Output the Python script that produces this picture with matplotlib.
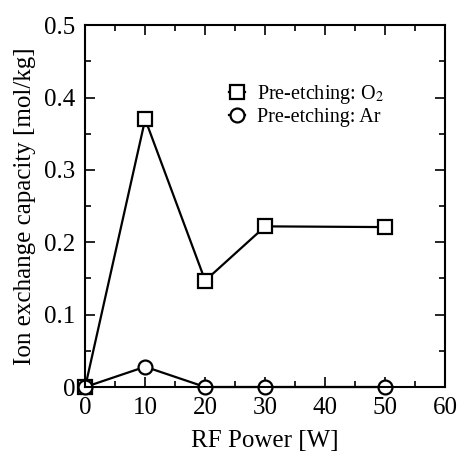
#ion exchange capacity vs RF power

import numpy as np
import matplotlib.pyplot as plt
from matplotlib.ticker import MultipleLocator

power = [0, 10, 20, 30, 50]
o2_iec = [0.0, 0.37, 0.147, 0.222, 0.221]
ar_iec = [0.0, 0.028, 0.0, 0.0, 0.0]

plt.rcParams['font.family'] = ['Liberation Serif', 'DejaVu Serif']
plt.rcParams['mathtext.fontset'] = 'stix'

fig = plt.figure(figsize=(4.58, 4.58), dpi=100)
ax = fig.add_axes([0.186, 0.155, 0.786, 0.79])

ax.plot(power, o2_iec, color='black', lw=1.6, marker='s', ms=10,
        mfc='white', mec='black', mew=1.6, label='Pre-etching: O$_2$')
ax.plot(power, ar_iec, color='black', lw=1.6, marker='o', ms=10,
        mfc='white', mec='black', mew=1.6, label='Pre-etching: Ar')

ax.set_xlim(0, 60)
ax.set_ylim(0, 0.5)
ax.xaxis.set_major_locator(MultipleLocator(10))
ax.xaxis.set_minor_locator(MultipleLocator(5))
ax.yaxis.set_minor_locator(MultipleLocator(0.05))
ax.set_yticks([0, 0.1, 0.2, 0.3, 0.4, 0.5])
ax.set_yticklabels(['0', '0.1', '0.2', '0.3', '0.4', '0.5'])
ax.tick_params(which='both', direction='in', top=True, right=True, labelsize=18, width=1.2)
ax.tick_params(which='major', length=7, pad=7)
ax.tick_params(which='minor', length=4)
for s in ax.spines.values():
    s.set_linewidth(1.5)

ax.set_xlabel("RF Power [W]", fontsize=18, labelpad=8)
ax.set_ylabel("Ion exchange capacity [mol/kg]", fontsize=18, labelpad=6)

ax.legend(loc='upper left', bbox_to_anchor=(0.40, 0.84), frameon=False, fontsize=14.5,
          handlelength=0.8, handletextpad=0.6, labelspacing=0.1, borderpad=0,
          borderaxespad=0)

for line in ax.get_lines():
    line.set_clip_on(False)

fig.savefig('out.png', dpi=100)
